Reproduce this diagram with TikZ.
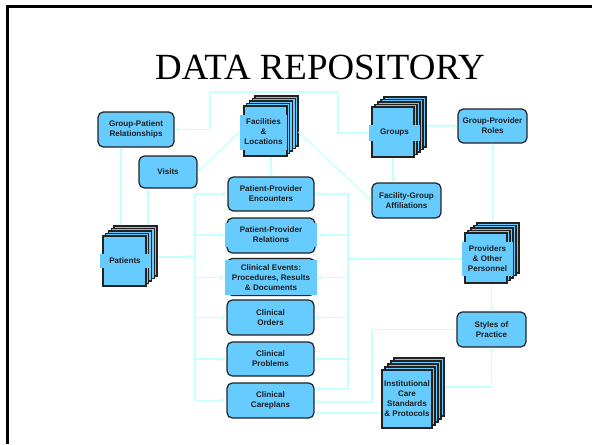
\documentclass[tikz,border=0pt]{standalone}
\usepackage{fontspec}
\setmainfont{Liberation Serif}
\newfontfamily\boxsans{Liberation Sans}
\usetikzlibrary{arrows.meta}
\definecolor{boxblue}{RGB}{102,204,255}
\definecolor{boxedge}{RGB}{34,34,34}
\definecolor{linkcyan}{RGB}{200,255,255}
\definecolor{inktext}{RGB}{30,30,30}
\begin{document}
\begin{tikzpicture}[x=0.02cm,y=-0.02cm,
		box/.style={draw=boxedge,fill=boxblue,line width=0.7pt,rounded corners=3pt,align=center,
			inner sep=0pt,text=inktext,font=\boxsans\bfseries\fontsize{4.6}{5.7}\selectfont},
		sheet/.style={draw=boxedge,fill=boxblue,line width=0.7pt,inner sep=0pt},
		sheetlabel/.style={fill=boxblue,align=center,inner sep=1pt,text=inktext,
			font=\boxsans\bfseries\fontsize{4.6}{5.7}\selectfont},
		link/.style={draw=linkcyan,line width=0.85pt,-{Stealth[length=3pt,width=3pt]}},
		bus/.style={draw=linkcyan,line width=0.85pt}]
		\useasboundingbox (0,0) rectangle (592,444);
		\draw[line width=1.3pt] (7.5,444) -- (7.5,6.5) -- (592,6.5);
		\node[font=\fontsize{21}{25}\selectfont,anchor=base] (title) at (320,79) {DATA REPOSITORY};
		% plain boxes
		\node[box,minimum width=1.52cm,minimum height=0.7cm] (gpr) at (136,129.5) {Group-Patient\\Relationships};
		\node[box,minimum width=1.16cm,minimum height=0.64cm] (visits) at (168,172) {Visits};
		\node[box,minimum width=1.38cm,minimum height=0.68cm] (gproles) at (492.5,126) {Group-Provider\\Roles};
		\node[box,minimum width=1.38cm,minimum height=0.7cm] (affil) at (406.5,200.5) {Facility-Group\\Affiliations};
		\node[box,minimum width=1.72cm,minimum height=0.68cm] (enc) at (271,194) {Patient-Provider\\Encounters};
		\node[box,minimum width=1.76cm,minimum height=0.7cm] (relbox) at (271,235.5) {};
		\node[sheetlabel,minimum width=1.84cm,minimum height=0.48cm] (rel) at (271,235) {Patient-Provider\\Relations};
		\node[box,minimum width=1.76cm,minimum height=0.74cm] (eventsbox) at (271,277) {};
		\node[sheetlabel,minimum width=1.84cm,minimum height=0.7cm] (events) at (271,277.5) {Clinical Events:\\Procedures, Results\\\& Documents};
		\node[box,minimum width=1.74cm,minimum height=0.7cm] (orders) at (270.5,317.5) {Clinical\\Orders};
		\node[box,minimum width=1.74cm,minimum height=0.68cm] (probs) at (270.5,359) {Clinical\\Problems};
		\node[box,minimum width=1.74cm,minimum height=0.7cm] (care) at (270.5,400.5) {Clinical\\Careplans};
		\node[box,minimum width=1.38cm,minimum height=0.7cm] (styles) at (491.5,329.5) {Styles of\\Practice};
		% stacks of pages
		\foreach \k in {4,3,2,1}
			\node[sheet,minimum width=0.86cm,minimum height=1cm] (facp\k) at (265.5+\k*2.75,131-\k*2.5) {};
		\node[sheet,minimum width=0.86cm,minimum height=1cm] (facp) at (265.5,131) {};
		\node[sheetlabel,minimum width=0.94cm,minimum height=0.7cm] (fac) at (263.5,132) {Facilities\\\&\\Locations};
		\foreach \k in {4,3,2,1}
			\node[sheet,minimum width=0.84cm,minimum height=1cm] (grpp\k) at (393+\k*3,132-\k*2.5) {};
		\node[sheet,minimum width=0.84cm,minimum height=1cm] (grpp) at (393,132) {};
		\node[sheetlabel,minimum width=1.02cm,minimum height=0.32cm] (grp) at (394.5,133) {Groups};
		\foreach \k in {4,3,2,1}
			\node[sheet,minimum width=0.86cm,minimum height=1cm] (patp\k) at (124.5+\k*2.75,261-\k*2.5) {};
		\node[sheet,minimum width=0.86cm,minimum height=1cm] (patp) at (124.5,261) {};
		\node[sheetlabel,minimum width=1cm,minimum height=0.28cm] (pat) at (125,261) {Patients};
		\foreach \k in {4,3,2,1}
			\node[sheet,minimum width=0.84cm,minimum height=1cm] (prvp\k) at (486+\k*3,258-\k*2.5) {};
		\node[sheet,minimum width=0.84cm,minimum height=1cm] (prvp) at (486,258) {};
		\node[sheetlabel,minimum width=1.02cm,minimum height=0.68cm] (prv) at (487.5,259) {Providers\\\& Other\\Personnel};
		\foreach \k in {4,3,2,1}
			\node[sheet,minimum width=1cm,minimum height=1.16cm] (insp\k) at (407+\k*3,399-\k*3) {};
		\node[sheet,minimum width=1cm,minimum height=1.16cm] (insp) at (407,399) {};
		\node[sheetlabel,inner sep=0.5pt] (ins) at (insp) {Institutional\\Care\\Standards\\\& Protocols};
		% connectors
		\coordinate (topr) at (338,92);
		\coordinate (topl) at (210,92);
		\draw[link] (grp.west) -| (topr) -| (topl) |- (gpr.east);
		\draw[link] (fac.west) -- (visits.east);
		\draw[link] (enc.north |- facp.south) -- (enc.north);
		\draw[link] (facp4.east |- fac.east) -- (affil.west);
		\draw[link] (grpp.south) -- (grpp.south |- affil.north);
		\draw[link] (grpp4.east |- gproles.west) -- (gproles.west);
		\draw[link] (gproles.south |- prvp4.north) -- (gproles.south);
		\draw[link] (styles.north |- prvp.south) -- (styles.north);
		\draw[link] (insp4.east) -| (styles.south);
		\draw[link] (121,0 |- patp4.north) -- (121,0 |- gpr.south);
		\draw[link] (148,0 |- patp4.north) -- (148,0 |- visits.south);
		% left bus
		\coordinate (lbus) at (195,257);
		\draw[link] (patp4.east |- lbus) -- (lbus);
		\draw[bus] (lbus |- enc.west) -- (lbus |- care.west);
		\foreach \n in {enc,rel,events,orders,probs,care}
			\draw[link] (lbus |- \n.west) -- (\n.west);
		% right bus
		\coordinate (rbus) at (348,258);
		\draw[link] (prv.west) -- (rbus |- prv.west);
		\draw[bus] (rbus |- enc.east) -- (348,389);
		\foreach \n in {enc,rel,events,orders,probs}
			\draw[link] (rbus |- \n.east) -- (\n.east);
		\draw[link] (348,389) -- (care.east |- 0,389);
		\draw[link] (styles.west) -| (372,402) -- (care.east |- 0,402);
		\draw[link] (insp.west |- 0,413) -- (care.east |- 0,413);
	\end{tikzpicture}
\end{document}
